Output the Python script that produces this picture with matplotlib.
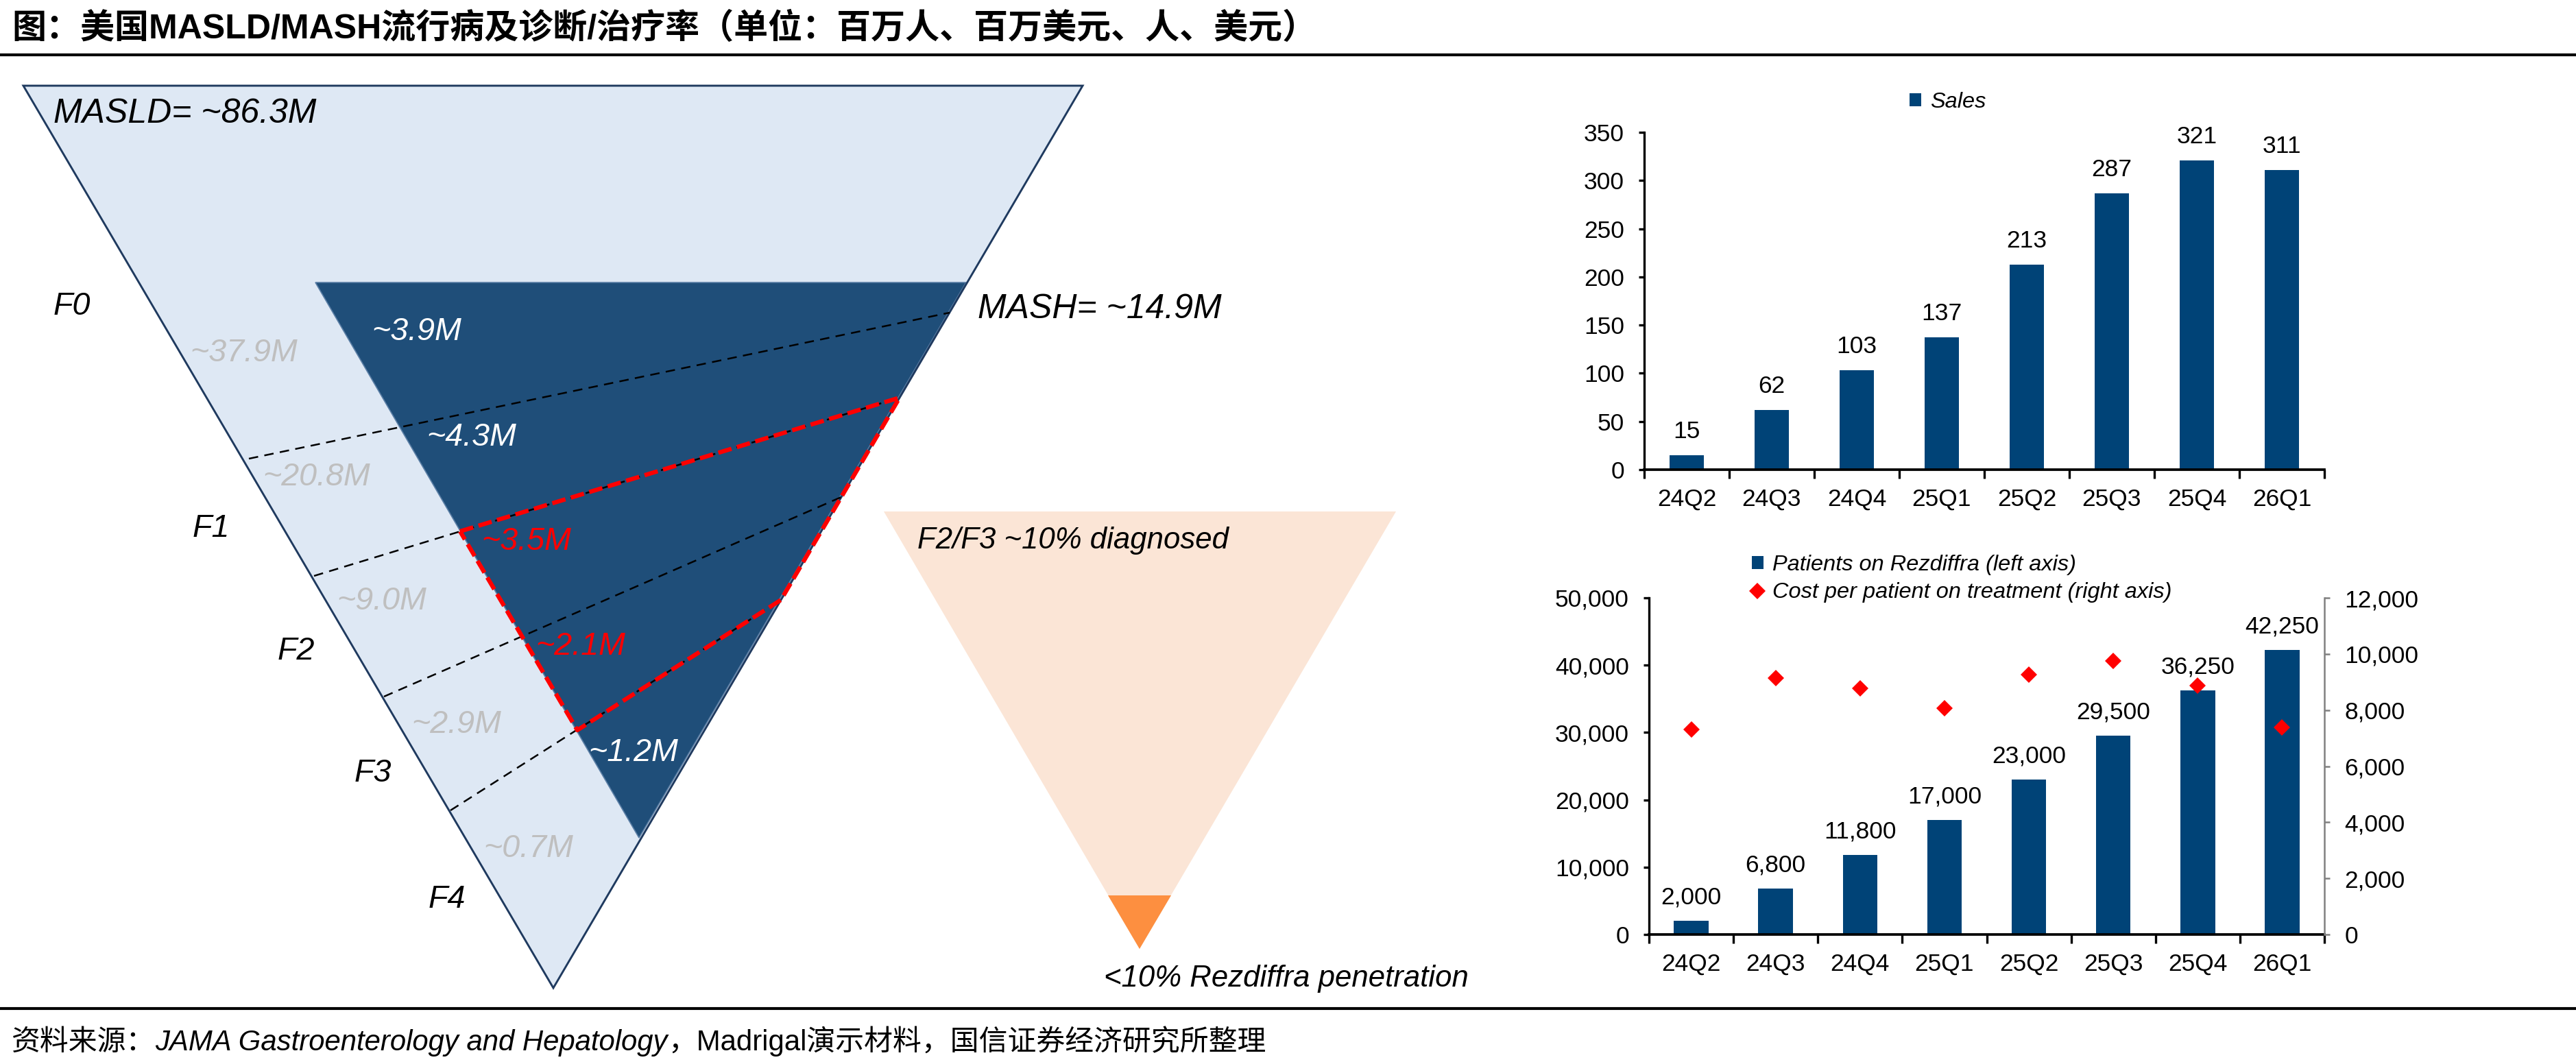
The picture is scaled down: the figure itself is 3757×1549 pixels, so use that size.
import matplotlib
matplotlib.use('Agg')
import matplotlib.pyplot as plt
import numpy as np
from matplotlib.patches import Polygon

plt.rcParams['font.family'] = ['Liberation Sans', 'Noto Sans CJK SC']

W, H = 3757, 1549
DPI = 300

# ---- 数据 ----
quarters = ['24Q2', '24Q3', '24Q4', '25Q1', '25Q2', '25Q3', '25Q4', '26Q1']
sales = [15, 62, 103, 137, 213, 287, 321, 311]
patients = [2000, 6800, 11800, 17000, 23000, 29500, 36250, 42250]
cost_per_patient = [7300, 9150, 8770, 8070, 9270, 9750, 8880, 7370]

stages = ['F0', 'F1', 'F2', 'F3', 'F4']
masld_stage = ['~37.9M', '~20.8M', '~9.0M', '~2.9M', '~0.7M']
mash_stage = ['~3.9M', '~4.3M', '~3.5M', '~2.1M', '~1.2M']
mash_colors = ['white', 'white', 'red', 'red', 'white']

title = '图：美国MASLD/MASH流行病及诊断/治疗率（单位：百万人、百万美元、人、美元）'
source = [('资料来源：', 'normal'),
          ('JAMA Gastroenterology and Hepatology', 'italic'),
          ('，Madrigal演示材料，国信证券经济研究所整理', 'normal')]

# ---- 颜色 ----
LIGHT = '#DEE8F4'
DARK = '#1F4E79'
BAR = '#004377'
PEACH = '#FBE5D6'
ORANGE = '#FD8F40'
GREY_TXT = '#BFBFBF'


def box(x0, y0, x1, y1):
    """像素坐标 -> figure 坐标"""
    return [x0 / W, 1 - y1 / H, (x1 - x0) / W, (y1 - y0) / H]


fig = plt.figure(figsize=(W / DPI, H / DPI), dpi=DPI)

# ---- 左侧示意图 ----
ax0 = fig.add_axes([0, 0, 1, 1])
ax0.set_xlim(0, W)
ax0.set_ylim(H, 0)
ax0.axis('off')

big = [(34, 125), (1579, 125), (807, 1441)]
dark = [(460, 412), (1409, 412), (932, 1222)]
ax0.add_patch(Polygon(big, closed=True, facecolor=LIGHT, edgecolor='none'))
ax0.add_patch(Polygon(dark, closed=True, facecolor=DARK, edgecolor='#5B7FA6', lw=0.4))
ax0.add_patch(Polygon(big, closed=True, fill=False, edgecolor='#1F3A5F', lw=0.7))

dash_lines = [((363, 669), (1385, 456)),
              ((458, 840), (1312, 580)),
              ((560, 1016), (1227, 725)),
              ((657, 1182), (1139, 875))]
for (xa, ya), (xb, yb) in dash_lines:
    ax0.plot([xa, xb], [ya, yb], color='black', lw=0.6, ls=(0, (5.5, 3.7)))

red_box = [(671, 775), (1312, 580), (1139, 875), (842, 1065), (671, 775)]
ax0.plot([p[0] for p in red_box], [p[1] for p in red_box], color='#FF0000',
         lw=1.5, ls=(0, (3.2, 1.3)))

# 右侧小漏斗
ax0.add_patch(Polygon([(1289, 746), (2036, 746), (1662, 1384)], closed=True,
                      facecolor=PEACH, edgecolor='none'))
ax0.add_patch(Polygon([(1616, 1306), (1708, 1306), (1662, 1384)], closed=True,
                      facecolor=ORANGE, edgecolor='none'))

txt = dict(style='italic', va='center', ha='left')
ax0.text(78, 166, 'MASLD= ~86.3M', color='black', fontsize=12, **txt)
ax0.text(1426, 451, 'MASH= ~14.9M', color='black', fontsize=12, **txt)
ax0.text(1338, 788, 'F2/F3 ~10% diagnosed', color='black', fontsize=10.5, **txt)
ax0.text(1610, 1428, '<10% Rezdiffra penetration', color='black', fontsize=10.5, **txt)

fs_d = 11.2
stage_pos = [(78, 447), (281, 771), (405, 950), (517, 1128), (625, 1312)]
masld_pos = [(277, 515), (383, 696), (491, 877), (600, 1057), (705, 1238)]
mash_pos = [(542, 484), (622, 638), (702, 790), (781, 943), (858, 1098)]
for i in range(len(stages)):
    ax0.text(*stage_pos[i], stages[i], color='black', fontsize=fs_d, **txt)
    ax0.text(*masld_pos[i], masld_stage[i], color=GREY_TXT, fontsize=fs_d, **txt)
    ax0.text(*mash_pos[i], mash_stage[i], color=mash_colors[i], fontsize=fs_d, **txt)

# 标题与分割线
fig.text(17 / W, 1 - 56 / H, title, fontsize=12, fontweight='bold',
         va='baseline', ha='left')
ax0.plot([0, W], [80, 80], color='black', lw=1.0)
ax0.plot([0, W], [1471, 1471], color='black', lw=1.0)

# 资料来源
r = fig.canvas.get_renderer()
xpos = 17
for s, st in source:
    t = fig.text(xpos / W, 1 - 1532 / H, s, fontsize=10.05, style=st,
                 va='baseline', ha='left')
    xpos = t.get_window_extent(r).x1

x = np.arange(len(quarters))
fs = 8.5
leg_prop = dict(family='Liberation Sans', style='italic', size=7.8)

# ---- 右上：销售额 ----
ax1 = fig.add_axes(box(2398, 193, 3390, 685))
bars1 = ax1.bar(x, sales, width=0.41, color=BAR, label='Sales')
ax1.set_xlim(-0.5, len(quarters) - 0.5)
ax1.set_ylim(0, 350)
ax1.set_yticks(np.arange(0, 351, 50))
ax1.set_xticks(x, quarters)
ax1.set_xticks(np.arange(-0.5, len(quarters), 1), minor=True)
for b, v in zip(bars1, sales):
    ax1.annotate(f'{v}', (b.get_x() + b.get_width() / 2, v), xytext=(0, 6),
                 textcoords='offset points', ha='center', va='baseline', fontsize=fs)
ax1.legend(loc='upper left', bbox_to_anchor=(2785 / W, 1 - 134 / H),
           bbox_transform=fig.transFigure, frameon=False, prop=leg_prop,
           handlelength=0.52, handleheight=0.55, handletextpad=0.4,
           borderpad=0, borderaxespad=0)

# ---- 右下：患者数与单价 ----
ax2 = fig.add_axes(box(2405, 872, 3390, 1363))
bars2 = ax2.bar(x, patients, width=0.41, color=BAR)
ax2.set_xlim(-0.5, len(quarters) - 0.5)
ax2.set_ylim(0, 50000)
ax2.set_yticks(np.arange(0, 50001, 10000))
ax2.set_yticklabels([f'{v:,}' for v in np.arange(0, 50001, 10000)])
ax2.set_xticks(x, quarters)
ax2.set_xticks(np.arange(-0.5, len(quarters), 1), minor=True)
for b, v in zip(bars2, patients):
    ax2.annotate(f'{v:,}', (b.get_x() + b.get_width() / 2, v), xytext=(0, 6),
                 textcoords='offset points', ha='center', va='baseline', fontsize=fs)

ax3 = ax2.twinx()
pts, = ax3.plot(x, cost_per_patient, linestyle='none', marker='D', ms=4.2,
                color='#FF0000', markeredgewidth=0)
ax3.set_ylim(0, 12000)
ax3.set_yticks(np.arange(0, 12001, 2000))
ax3.set_yticklabels([f'{v:,}' for v in np.arange(0, 12001, 2000)])
ax3.tick_params(axis='y', length=2, width=0.6, color='#808080', pad=5, labelsize=fs)
for s in ['top', 'left', 'bottom']:
    ax3.spines[s].set_visible(False)
ax3.spines['right'].set_color('#808080')
ax3.spines['right'].set_linewidth(0.6)
ax3.legend([bars2, pts], ['Patients on Rezdiffra (left axis)',
                          'Cost per patient on treatment (right axis)'],
           loc='upper left', bbox_to_anchor=(2555 / W, 1 - 809 / H),
           bbox_transform=fig.transFigure, frameon=False, prop=leg_prop,
           handlelength=0.52, handleheight=0.55, handletextpad=0.4,
           labelspacing=0.32, borderpad=0, borderaxespad=0, numpoints=1)

for ax in (ax1, ax2):
    for s in ['top', 'right']:
        ax.spines[s].set_visible(False)
    ax.spines['left'].set_linewidth(0.8)
    ax.spines['bottom'].set_linewidth(0.9)
    ax.tick_params(axis='x', which='major', length=0, pad=6.5, labelsize=fs)
    ax.tick_params(axis='x', which='minor', length=3, width=0.8, direction='out')
    ax.tick_params(axis='y', length=2, width=0.8, pad=5, labelsize=fs)

fig.savefig('out.png', dpi=DPI)
